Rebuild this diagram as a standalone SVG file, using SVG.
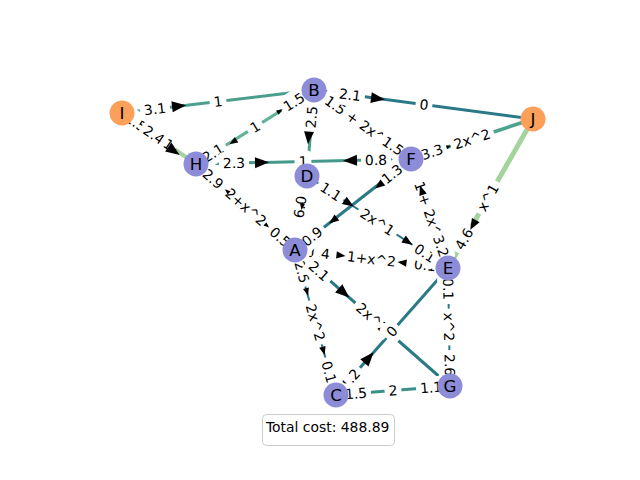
<svg xmlns="http://www.w3.org/2000/svg" width="640" height="480" viewBox="0 0 640 480">
<style>
.e{fill:none;stroke-linecap:butt}
.lb rect{fill:#ffffff;stroke:none}
.lb text{font-family:"DejaVu Sans",sans-serif;font-size:13.9px;fill:#000;text-anchor:middle}
.nd circle{stroke:none}
.nb{fill:#8d8cd9}
.no{fill:#fba05b}
.nd text{font-family:"DejaVu Sans",sans-serif;font-size:16.7px;fill:#000;text-anchor:middle}
.ah{fill:#000}
</style>
<defs>
<path id="ah" d="M7,0 L-7,-5.5 L-7,5.5 Z"/>
</defs>
<rect width="640" height="480" fill="#ffffff"/>
<g id="connectors">
<line class="e" x1="122" y1="113" x2="314" y2="90" stroke="#4a9f8c" stroke-width="3"/>
<line class="e" x1="122" y1="113" x2="196" y2="164" stroke="#a4d49b" stroke-width="4"/>
<line class="e" x1="196" y1="164" x2="314" y2="90" stroke="#62b199" stroke-width="3"/>
<line class="e" x1="196" y1="164" x2="411" y2="159" stroke="#45998a" stroke-width="3"/>
<line class="e" x1="314" y1="90" x2="533" y2="119" stroke="#2a7987" stroke-width="3"/>
<line class="e" x1="314" y1="90" x2="307" y2="176" stroke="#4aa08d" stroke-width="3"/>
<line class="e" x1="411" y1="159" x2="533" y2="119" stroke="#4ea38f" stroke-width="3.5"/>
<line class="e" x1="533" y1="119" x2="448" y2="268" stroke="#a3d49b" stroke-width="5"/>
<line class="e" x1="411" y1="159" x2="295" y2="250" stroke="#2a7987" stroke-width="3"/>
<line class="e" x1="295" y1="250" x2="450" y2="386" stroke="#2a7987" stroke-width="3"/>
<line class="e" x1="336" y1="395" x2="448" y2="268" stroke="#2a7987" stroke-width="3"/>
<line class="e" x1="336" y1="395" x2="450" y2="386" stroke="#3a9189" stroke-width="3"/>
<line class="e" x1="295" y1="250" x2="336" y2="395" stroke="#2a7987" stroke-width="2"/>
<line class="e" x1="448" y1="268" x2="450" y2="386" stroke="#2a7987" stroke-width="2"/>
<line class="e" x1="307" y1="176" x2="448" y2="268" stroke="#2a7987" stroke-width="2"/>
</g>
<g id="edge-labels" class="lb">
<g transform="translate(136,122.5) rotate(34.6)"><rect x="-15" y="-11" width="30" height="22" rx="4"/><text y="5">1.5</text></g>
<g transform="translate(154,135) rotate(34.6)"><rect x="-15" y="-11" width="30" height="22" rx="4"/><text y="5">2.4</text></g>
<g transform="translate(168.5,144.5) rotate(34.6)"><rect x="-8.4" y="-11" width="16.8" height="22" rx="4"/><text y="5">1</text></g>
<g transform="translate(155,109) rotate(-6.8)"><rect x="-15" y="-11" width="30" height="22" rx="4"/><text y="5">3.1</text></g>
<g transform="translate(218,101.5) rotate(-6.8)"><rect x="-8.4" y="-11" width="16.8" height="22" rx="4"/><text y="5">1</text></g>
<g transform="translate(213,153) rotate(-32.1)"><rect x="-15" y="-11" width="30" height="22" rx="4"/><text y="5">2.1</text></g>
<g transform="translate(255,127) rotate(-32.1)"><rect x="-8.4" y="-11" width="16.8" height="22" rx="4"/><text y="5">1</text></g>
<g transform="translate(294,102) rotate(-32.1)"><rect x="-15" y="-11" width="30" height="22" rx="4"/><text y="5">1.5</text></g>
<g transform="translate(234,163) rotate(-1.3)"><rect x="-15" y="-11" width="30" height="22" rx="4"/><text y="5">2.3</text></g>
<g transform="translate(303,161.5) rotate(-1.3)"><rect x="-8.4" y="-11" width="16.8" height="22" rx="4"/><text y="5">1</text></g>
<g transform="translate(376,160) rotate(-1.3)"><rect x="-15" y="-11" width="30" height="22" rx="4"/><text y="5">0.8</text></g>
<g transform="translate(311.5,117) rotate(-85.35)"><rect x="-15" y="-11" width="30" height="22" rx="4"/><text y="5">2.5</text></g>
<g transform="translate(359,122) rotate(35.4)"><rect x="-44.1" y="-11" width="88.2" height="22" rx="4"/><text y="5">1.5 + 2x^2</text></g>
<g transform="translate(350,94.8) rotate(7.5)"><rect x="-15" y="-11" width="30" height="22" rx="4"/><text y="5">2.1</text></g>
<g transform="translate(424,104.5) rotate(7.5)"><rect x="-8.4" y="-11" width="16.8" height="22" rx="4"/><text y="5">0</text></g>
<g transform="translate(393,146) rotate(35.4)"><rect x="-15" y="-11" width="30" height="22" rx="4"/><text y="5">1.5</text></g>
<g transform="translate(432,152) rotate(-18.2)"><rect x="-15" y="-11" width="30" height="22" rx="4"/><text y="5">3.3</text></g>
<g transform="translate(472,139) rotate(-18.2)"><rect x="-22.8" y="-11" width="45.6" height="22" rx="4"/><text y="5">2x^2</text></g>
<g transform="translate(488,197.5) rotate(-60.3)"><rect x="-18.4" y="-11" width="36.8" height="22" rx="4"/><text y="5">x^1</text></g>
<g transform="translate(464,239) rotate(-60.3)"><rect x="-15" y="-11" width="30" height="22" rx="4"/><text y="5">4.6</text></g>
<g transform="translate(392,174) rotate(-38.1)"><rect x="-15" y="-11" width="30" height="22" rx="4"/><text y="5">1.3</text></g>
<g transform="translate(331,191.5) rotate(33.1)"><rect x="-15" y="-11" width="30" height="22" rx="4"/><text y="5">1.1</text></g>
<g transform="translate(377.5,222) rotate(33.1)"><rect x="-22.8" y="-11" width="45.6" height="22" rx="4"/><text y="5">2x^1</text></g>
<g transform="translate(371.5,259) rotate(6.7)"><rect x="-28.6" y="-11" width="57.2" height="22" rx="4"/><text y="5">1+x^2</text></g>
<g transform="translate(425,265) rotate(6.7)"><rect x="-15" y="-11" width="30" height="22" rx="4"/><text y="5">0.1</text></g>
<g transform="translate(425,253) rotate(33.1)"><rect x="-15" y="-11" width="30" height="22" rx="4"/><text y="5">0.1</text></g>
<g transform="translate(429.5,213.5) rotate(71.25)"><rect x="-37.5" y="-11" width="75" height="22" rx="4"/><text y="5">1 + 2x^2</text></g>
<g transform="translate(441,246) rotate(71.25)"><rect x="-15" y="-11" width="30" height="22" rx="4"/><text y="5">3.2</text></g>
<g transform="translate(213,179) rotate(41)"><rect x="-15" y="-11" width="30" height="22" rx="4"/><text y="5">2.9</text></g>
<g transform="translate(246,207) rotate(41)"><rect x="-28.6" y="-11" width="57.2" height="22" rx="4"/><text y="5">2+x^2</text></g>
<g transform="translate(280,237) rotate(41)"><rect x="-15" y="-11" width="30" height="22" rx="4"/><text y="5">0.5</text></g>
<g transform="translate(300,207) rotate(-80.8)"><rect x="-15" y="-11" width="30" height="22" rx="4"/><text y="5">6.0</text></g>
<g transform="translate(372.5,318) rotate(41.3)"><rect x="-22.8" y="-11" width="45.6" height="22" rx="4"/><text y="5">2x^2</text></g>
<g transform="translate(392,331.5) rotate(-48.6)"><rect x="-8.4" y="-11" width="16.8" height="22" rx="4"/><text y="5">0</text></g>
<g transform="translate(315.5,322.5) rotate(74.2)"><rect x="-22.8" y="-11" width="45.6" height="22" rx="4"/><text y="5">2x^2</text></g>
<g transform="translate(350,379) rotate(-48.6)"><rect x="-15" y="-11" width="30" height="22" rx="4"/><text y="5">1.2</text></g>
<g transform="translate(329,372) rotate(74.2)"><rect x="-15" y="-11" width="30" height="22" rx="4"/><text y="5">0.1</text></g>
<g transform="translate(356,393.5) rotate(-4.5)"><rect x="-15" y="-11" width="30" height="22" rx="4"/><text y="5">1.5</text></g>
<g transform="translate(393,390.5) rotate(-4.5)"><rect x="-8.4" y="-11" width="16.8" height="22" rx="4"/><text y="5">2</text></g>
<g transform="translate(431,387.5) rotate(-4.5)"><rect x="-15" y="-11" width="30" height="22" rx="4"/><text y="5">1.1</text></g>
<g transform="translate(448.3,289) rotate(89)"><rect x="-15" y="-11" width="30" height="22" rx="4"/><text y="5">0.1</text></g>
<g transform="translate(449,327) rotate(89)"><rect x="-18.4" y="-11" width="36.8" height="22" rx="4"/><text y="5">x^2</text></g>
<g transform="translate(449.7,365) rotate(89)"><rect x="-15" y="-11" width="30" height="22" rx="4"/><text y="5">2.6</text></g>
<g transform="translate(319,253) rotate(6.7)"><rect x="-15" y="-11" width="30" height="22" rx="4"/><text y="5">1.4</text></g>
<g transform="translate(312,236.5) rotate(-38.1)"><rect x="-15" y="-11" width="30" height="22" rx="4"/><text y="5">0.9</text></g>
<g transform="translate(302,272) rotate(74.2)"><rect x="-15" y="-11" width="30" height="22" rx="4"/><text y="5">2.5</text></g>
<g transform="translate(319,271) rotate(41.3)"><rect x="-15" y="-11" width="30" height="22" rx="4"/><text y="5">2.1</text></g>
</g>
<g id="arrows" class="ah">
<use href="#ah" transform="translate(179,106) rotate(-6.8)"/>
<use href="#ah" transform="translate(174,151) rotate(34.6)"/>
<use href="#ah" transform="translate(233,142) rotate(147.9) scale(0.6)"/>
<use href="#ah" transform="translate(280,111) rotate(-32.1) scale(0.45)"/>
<use href="#ah" transform="translate(262,162.5) rotate(-1.3)"/>
<use href="#ah" transform="translate(350,160.5) rotate(178.7)"/>
<use href="#ah" transform="translate(378,98.5) rotate(7.5)"/>
<use href="#ah" transform="translate(308.5,138) rotate(94.65) scale(0.9)"/>
<use href="#ah" transform="translate(449,146.5) rotate(-18.2) scale(0.35)"/>
<use href="#ah" transform="translate(473,225) rotate(119.7) scale(0.8)"/>
<use href="#ah" transform="translate(379,185.5) rotate(141.9) scale(0.7)"/>
<use href="#ah" transform="translate(333,220.5) rotate(141.9) scale(0.7)"/>
<use href="#ah" transform="translate(349,203.4) rotate(33.1) scale(0.8)"/>
<use href="#ah" transform="translate(408,241.9) rotate(33.1) scale(0.75)"/>
<use href="#ah" transform="translate(341,255.4) rotate(6.7) scale(0.65)"/>
<use href="#ah" transform="translate(402,262.6) rotate(186.7) scale(0.65)"/>
<use href="#ah" transform="translate(307,292) rotate(74.2) scale(0.55)"/>
<use href="#ah" transform="translate(323.5,351) rotate(74.2) scale(0.6)"/>
<use href="#ah" transform="translate(344,293) rotate(41.3)"/>
<use href="#ah" transform="translate(369,357.6) rotate(-48.6)"/>
<use href="#ah" transform="translate(227,191) rotate(221) scale(0.4)"/>
<use href="#ah" transform="translate(267,225.7) rotate(41) scale(0.4)"/>
<use href="#ah" transform="translate(302,207) rotate(99.2) scale(0.45)"/>
<use href="#ah" transform="translate(421.5,190) rotate(251.25) scale(0.7)"/>
</g>
<g id="node-I" class="nd"><circle class="no" cx="122" cy="113" r="12.5"/><text x="122" y="119">I</text></g>
<g id="node-B" class="nd"><circle class="nb" cx="314" cy="90" r="12.5"/><text x="314" y="96">B</text></g>
<g id="node-J" class="nd"><circle class="no" cx="533" cy="119" r="12.5"/><text x="533" y="125">J</text></g>
<g id="node-H" class="nd"><circle class="nb" cx="196" cy="164" r="12.5"/><text x="196" y="170">H</text></g>
<g id="node-F" class="nd"><circle class="nb" cx="411" cy="159" r="12.5"/><text x="411" y="165">F</text></g>
<g id="node-D" class="nd"><circle class="nb" cx="307" cy="176" r="12.5"/><text x="307" y="182">D</text></g>
<g id="node-A" class="nd"><circle class="nb" cx="295" cy="250" r="12.5"/><text x="295" y="256">A</text></g>
<g id="node-E" class="nd"><circle class="nb" cx="448" cy="268" r="12.5"/><text x="448" y="274">E</text></g>
<g id="node-C" class="nd"><circle class="nb" cx="336" cy="395" r="12.5"/><text x="336" y="401">C</text></g>
<g id="node-G" class="nd"><circle class="nb" cx="450" cy="386" r="12.5"/><text x="450" y="392">G</text></g>
<g id="total-cost">
<rect x="262.5" y="414.5" width="132" height="31" rx="4" fill="#ffffff" fill-opacity="0.8" stroke="#cccccc" stroke-width="1"/>
<text x="266" y="432" font-family="DejaVu Sans, sans-serif" font-size="13.9px" fill="#000">Total cost: 488.89</text>
</g>
</svg>
